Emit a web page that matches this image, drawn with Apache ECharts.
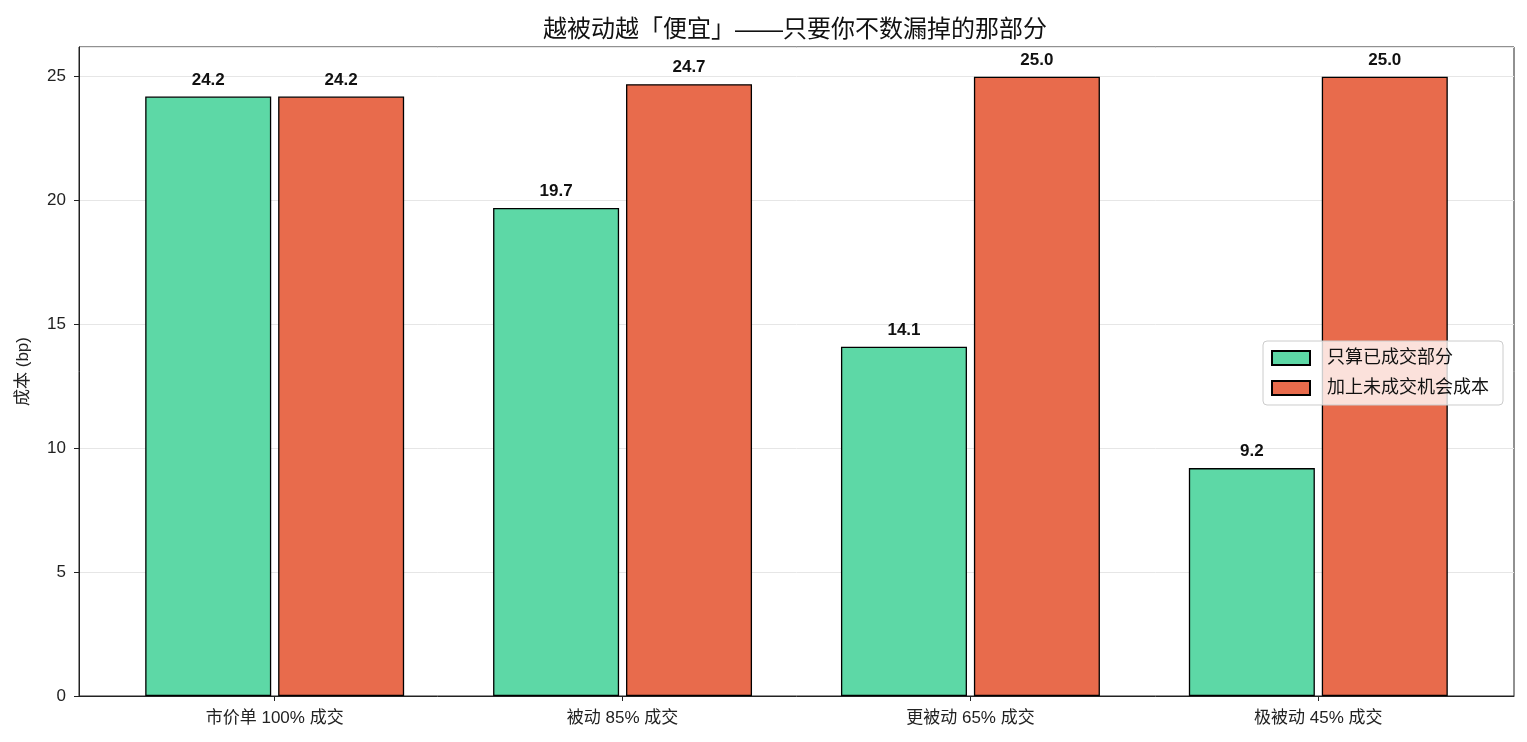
<!DOCTYPE html>
<html>

<head>
    <meta charset="utf-8" />
    <script src="https://cdn.jsdelivr.net/npm/echarts@6/dist/echarts.min.js"></script>
    <style>
        html, body { margin: 0; padding: 0; background: #fff; }
    </style>
</head>

<body>
    <div id="main" style="width: 1527px; height: 742px;"></div>
    <script type="text/javascript">
        var categories = ['市价单 100% 成交', '被动 85% 成交', '更被动 65% 成交', '极被动 45% 成交'];
        var filledOnly = [24.2, 19.7, 14.1, 9.2];
        var withMissed = [24.2, 24.7, 25.0, 25.0];
        var seriesNames = ['只算已成交部分', '加上未成交机会成本'];
        var yTicks = [0, 5, 10, 15, 20, 25];

        var font = '"Liberation Sans", "Noto Sans CJK SC", sans-serif';
        var myChart = echarts.init(document.getElementById('main'));

        function toPoints(arr) {
            return arr.map(function (v, i) { return [i, v]; });
        }

        var labelStyle = {
            show: true,
            position: 'top',
            distance: 8,
            color: '#111',
            fontSize: 17,
            fontWeight: 'bold',
            fontFamily: font,
            formatter: function (p) { return p.value[1].toFixed(1); }
        };

        var option = {
            animation: false,
            backgroundColor: '#fff',
            textStyle: { fontFamily: font },
            title: {
                text: '越被动越「便宜」——只要你不数漏掉的那部分',
                left: 790,
                top: 13,
                textAlign: 'center',
                textStyle: { fontSize: 24, fontWeight: 'normal', color: '#111', fontFamily: font }
            },
            legend: {
                orient: 'vertical',
                right: 24,
                top: 341,
                icon: 'rect',
                itemWidth: 38,
                itemHeight: 14,
                itemGap: 12,
                padding: [8, 14, 8, 8],
                backgroundColor: 'rgba(255,255,255,0.8)',
                borderColor: '#cccccc',
                borderWidth: 1,
                borderRadius: 4,
                textStyle: { fontSize: 18, color: '#111', fontFamily: font, padding: [0, 0, 0, 12] },
                data: seriesNames
            },
            grid: {
                left: 79,
                right: 13,
                top: 47,
                bottom: 46,
                show: true,
                borderColor: '#222',
                borderWidth: 1
            },
            xAxis: {
                type: 'value',
                min: -0.5625,
                max: 3.5625,
                axisLine: { show: true, lineStyle: { color: '#222' } },
                axisTick: { show: true, length: 5, lineStyle: { color: '#222' }, customValues: [0, 1, 2, 3] },
                axisLabel: {
                    customValues: [0, 1, 2, 3],
                    margin: 14,
                    fontSize: 17,
                    color: '#222',
                    fontFamily: font,
                    formatter: function (v) { return categories[Math.round(v)]; }
                },
                splitLine: { show: false }
            },
            yAxis: {
                type: 'value',
                min: 0,
                max: 26.2,
                interval: 5,
                name: '成本 (bp)',
                nameLocation: 'middle',
                nameGap: 47,
                nameTextStyle: { fontSize: 17, color: '#222', fontFamily: font },
                axisLine: { show: true, onZero: false, lineStyle: { color: '#222' } },
                axisTick: { show: true, length: 5, lineStyle: { color: '#222' } },
                axisLabel: {
                    showMaxLabel: false,
                    margin: 13,
                    fontSize: 17,
                    color: '#222',
                    fontFamily: font,
                    formatter: function (v) { return yTicks.indexOf(v) >= 0 ? String(v) : ''; }
                },
                splitLine: { show: true, lineStyle: { color: '#e6e6e6', width: 1 } }
            },
            series: [
                {
                    name: seriesNames[0],
                    type: 'bar',
                    barWidth: 126,
                    barGap: '5.5%',
                    data: toPoints(filledOnly),
                    itemStyle: { color: '#5dd8a6', borderColor: '#000', borderWidth: 1.3 },
                    label: labelStyle
                },
                {
                    name: seriesNames[1],
                    type: 'bar',
                    barWidth: 126,
                    barGap: '5.5%',
                    data: toPoints(withMissed),
                    itemStyle: { color: '#e86b4c', borderColor: '#000', borderWidth: 1.3 },
                    label: labelStyle
                }
            ]
        };

        myChart.setOption(option);
    </script>
</body>

</html>
